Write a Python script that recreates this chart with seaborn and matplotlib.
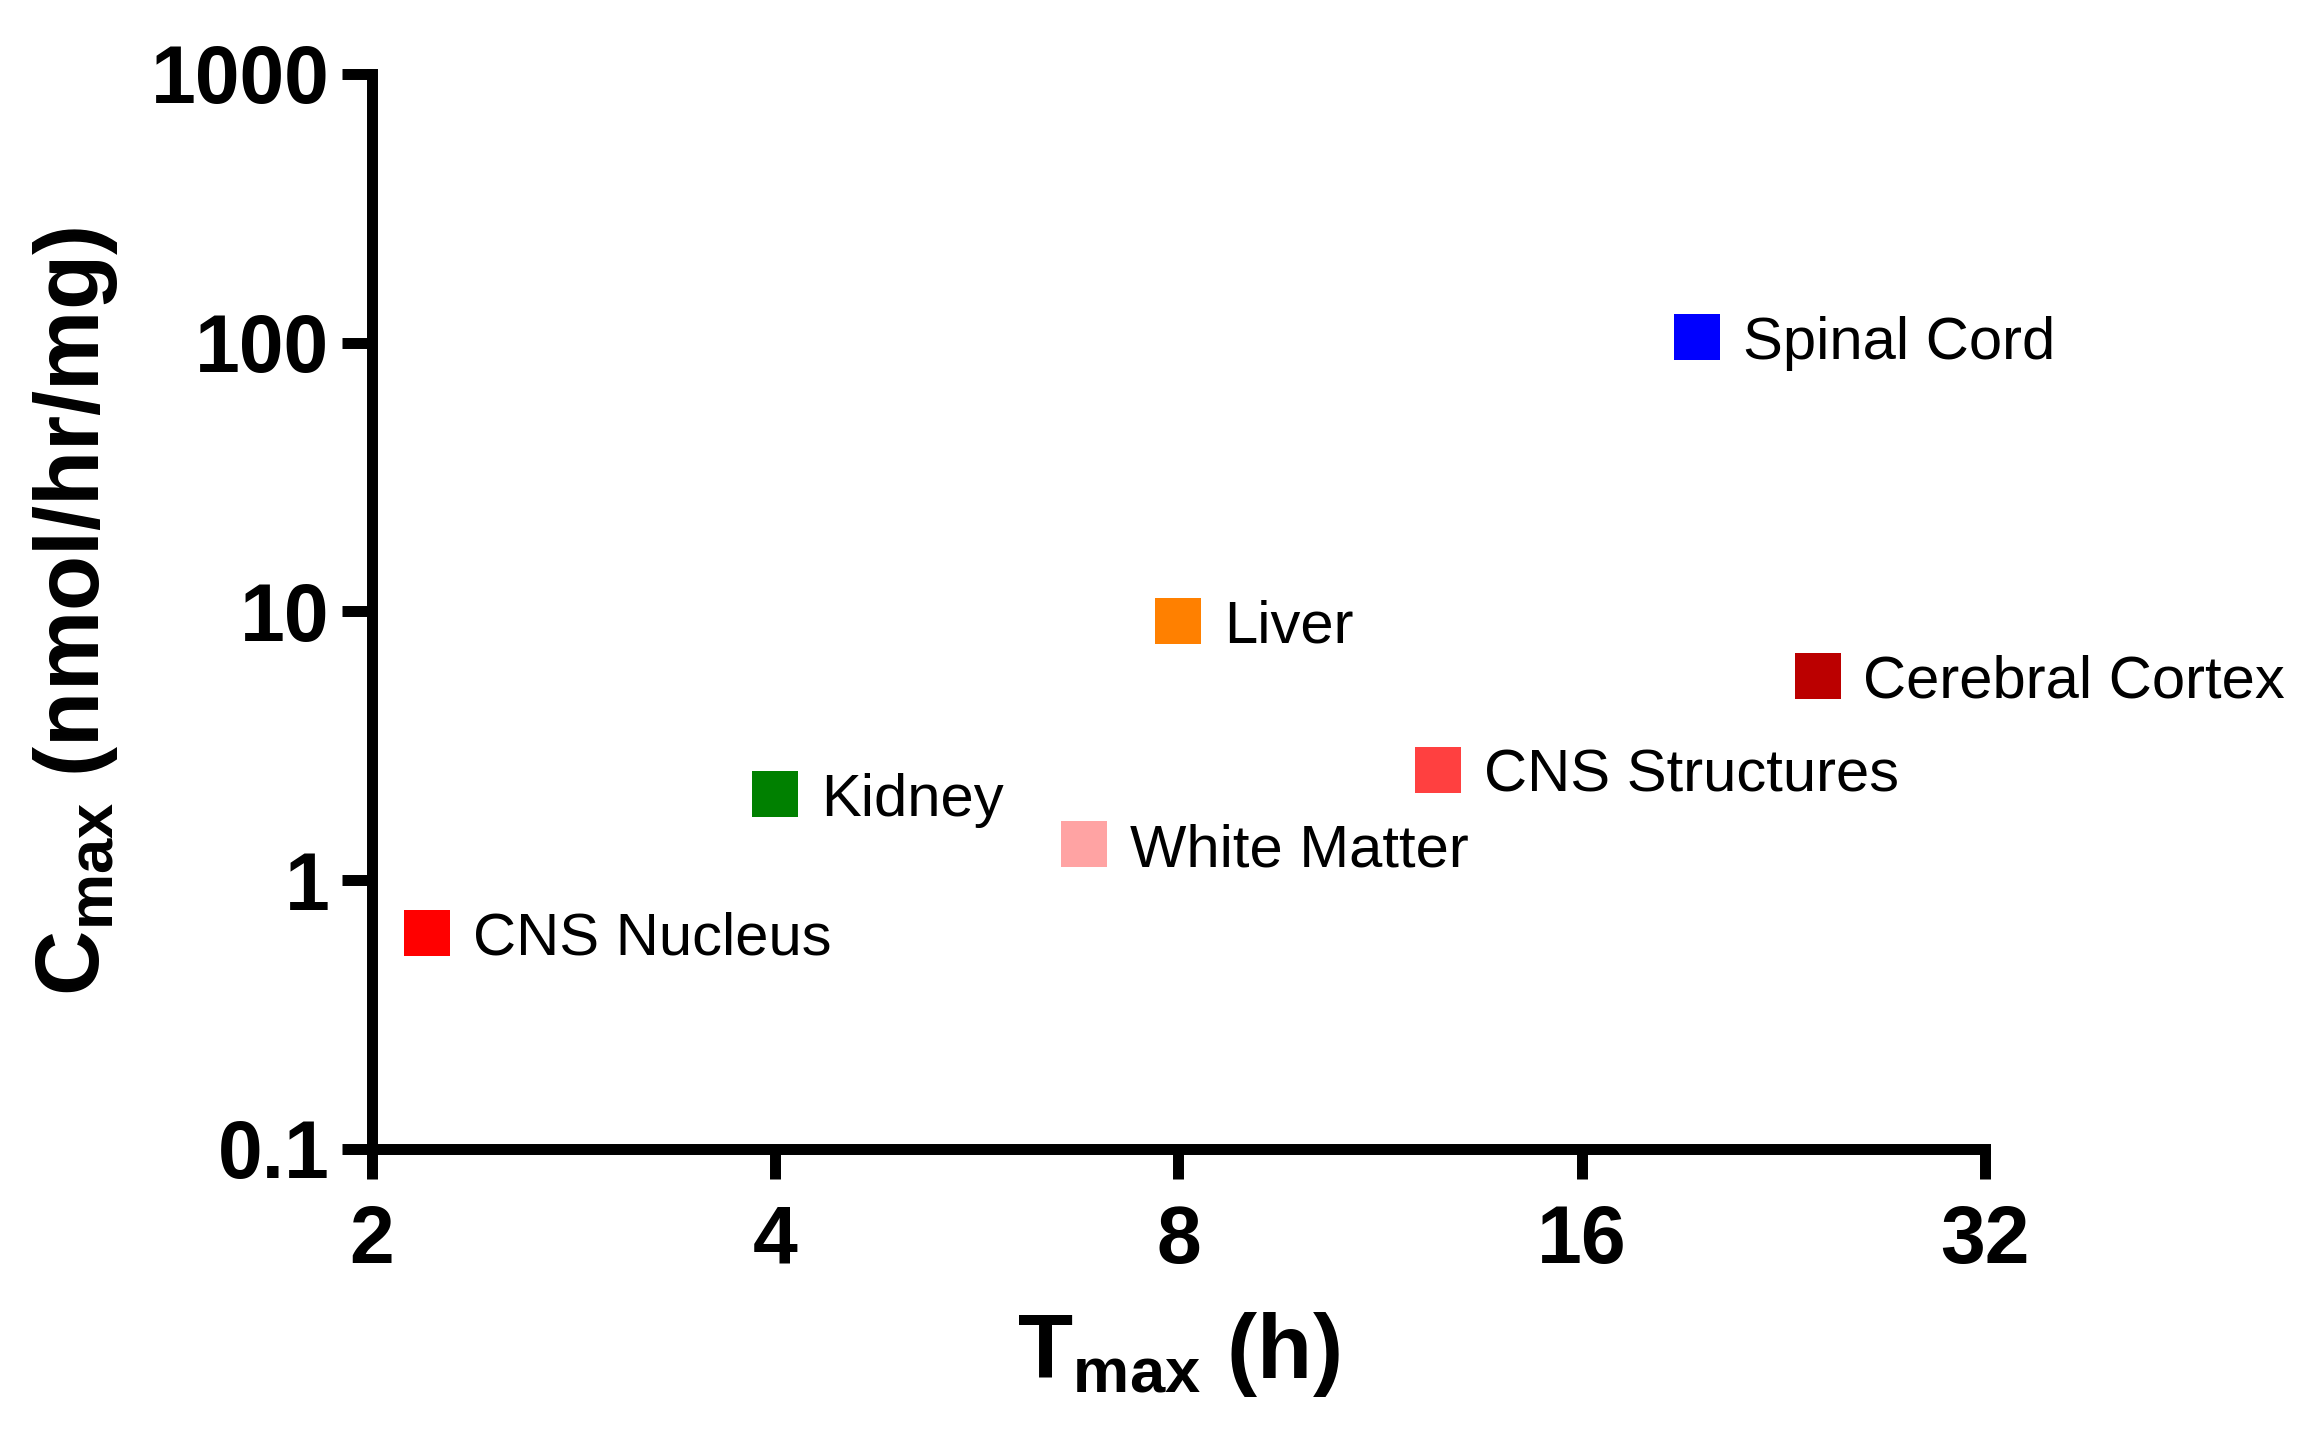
import matplotlib
matplotlib.use("Agg")
import matplotlib.pyplot as plt
import seaborn as sns
import pandas as pd
from matplotlib.ticker import LogLocator, NullLocator, NullFormatter

# ---- data ----
tissues = ["CNS Nucleus", "Kidney", "White Matter", "Liver",
           "CNS Structures", "Spinal Cord", "Cerebral Cortex"]
tmax_h = [2.20, 4.0, 6.8, 8.0, 12.5, 19.5, 24.0]
cmax = [0.637, 2.09, 1.36, 9.2, 2.57, 105.0, 5.75]
colors = ["#FF0000", "#008000", "#FFA3A3", "#FF8000",
          "#FF4040", "#0000FF", "#BB0000"]
x_ticks = [2, 4, 8, 16, 32]
x_ticklabels = ["2", "4", "8", "16", "32"]
y_ticks = [0.1, 1, 10, 100, 1000]
y_ticklabels = ["0.1", "1", "10", "100", "1000"]

df = pd.DataFrame({"tissue": tissues, "tmax": tmax_h, "cmax": cmax})
palette = dict(zip(tissues, colors))

sns.set_theme(style="white")
plt.rcParams["font.family"] = ["Liberation Sans", "DejaVu Sans"]
plt.rcParams["mathtext.fontset"] = "custom"
plt.rcParams["mathtext.bf"] = "Liberation Sans:bold"
plt.rcParams["mathtext.rm"] = "Liberation Sans"
plt.rcParams["mathtext.it"] = "Liberation Sans:italic"
plt.rcParams["text.color"] = "black"
plt.rcParams["axes.labelcolor"] = "black"

fig = plt.figure(figsize=(23, 14.36), dpi=100)
ax = fig.add_axes([0.1617, 0.1999, 0.8630 - 0.1617, 0.9485 - 0.1999])

sns.scatterplot(data=df, x="tmax", y="cmax", hue="tissue", palette=palette,
                marker="s", s=1096, linewidth=0, legend=False, ax=ax, zorder=3)

for t, xv, yv in zip(tissues, tmax_h, cmax):
    ax.annotate(t, (xv, yv), xytext=(33, -15.7), textcoords="offset points",
                ha="left", va="baseline", fontsize=43, color="black")

ax.set_xscale("log", base=2)
ax.set_yscale("log")
ax.set_xlim(2, 32)
ax.set_ylim(0.1, 1000)
ax.set_xticks(x_ticks)
ax.set_xticklabels(x_ticklabels, fontweight="bold")
ax.xaxis.set_minor_locator(NullLocator())
ax.set_yticks(y_ticks)
ax.set_yticklabels(y_ticklabels, fontweight="bold")
ax.yaxis.set_minor_locator(LogLocator(base=10, subs=range(2, 10)))
ax.yaxis.set_minor_formatter(NullFormatter())

for side in ["top", "right"]:
    ax.spines[side].set_visible(False)
for side in ["left", "bottom"]:
    ax.spines[side].set_linewidth(7.9)
    ax.spines[side].set_color("black")
    ax.spines[side].set_capstyle("projecting")

ax.tick_params(axis="both", which="major", direction="out", length=21.6,
               width=7.9, color="black", labelsize=58, labelcolor="black")
ax.tick_params(axis="both", which="minor", direction="out", length=12,
               width=7.9, color="black")
ax.tick_params(axis="x", which="major", pad=18)
ax.tick_params(axis="y", which="major", pad=9)
ax.tick_params(top=False, right=False, bottom=True, left=True)
ax.tick_params(axis="x", which="minor", bottom=False)

ax.set_xlabel(r"$\mathbf{T}_{\mathbf{max}}$ (h)", fontsize=65,
              fontweight="bold", labelpad=22, color="black")
ax.set_ylabel(r"$\mathbf{C}_{\mathbf{max}}$ (nmol/hr/mg)", fontsize=65,
              fontweight="bold", labelpad=22, color="black")
ax.grid(False)
ax.set_facecolor("white")
fig.patch.set_facecolor("white")

fig.savefig("out.png", dpi=100)
